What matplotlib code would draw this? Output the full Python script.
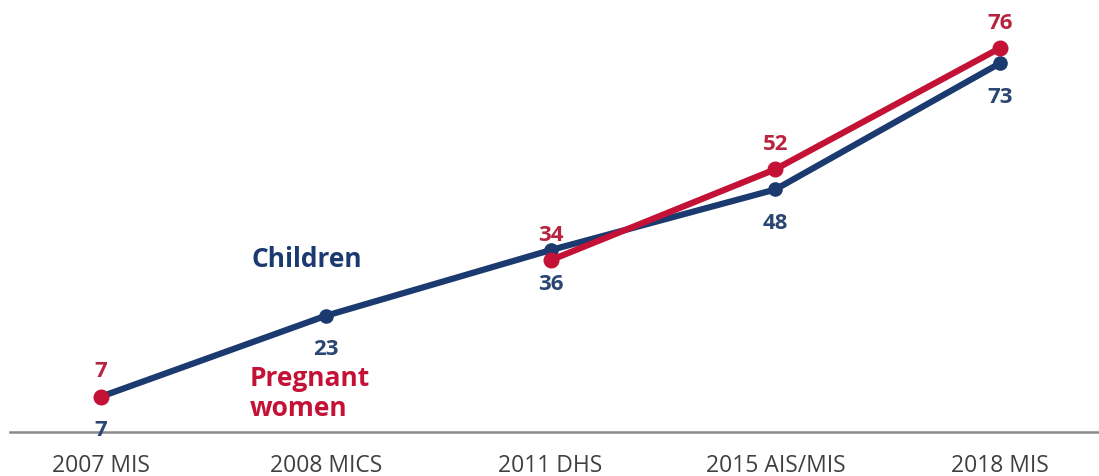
import numpy as np
import matplotlib
matplotlib.use("Agg")
import matplotlib.pyplot as plt

plt.rcParams['font.family'] = ['Open Sans', 'DejaVu Sans']

surveys = ["2007 MIS", "2008 MICS", "2011 DHS", "2015 AIS/MIS", "2018 MIS"]
children = [7, 23, 36, 48, 73]
pregnant_women = [7, np.nan, 34, 52, 76]

navy = "#1b3a6f"
crimson = "#c41237"
navy_lbl = "#2b4672"
crimson_lbl = "#b8243f"

fig = plt.figure(figsize=(10.99, 4.77), dpi=100)
ax = fig.add_axes([10 / 1099, 44 / 477, 1 - 10 / 1099, 1 - 44 / 477])

x = np.arange(len(surveys))
pw = np.array(pregnant_women, dtype=float)

ax.plot(x, children, color=navy, lw=4.5, marker="o", ms=9.5, zorder=2,
        solid_capstyle="round")
# Pregnant women: line only where consecutive surveys exist, markers at all
mask = ~np.isnan(pw)
ax.plot(x[2:], pw[2:], color=crimson, lw=4.5, zorder=3, solid_capstyle="round")
ax.plot(x[mask], pw[mask], color=crimson, lw=0, marker="o", ms=10.5, zorder=4)

for xi, v in zip(x, children):
    ax.annotate(f"{v}", (xi, v), xytext=(0, -33), textcoords="offset pixels",
                ha="center", va="center", fontsize=16, fontweight="bold",
                color=navy_lbl)
for xi, v in zip(x, pw):
    if not np.isnan(v):
        ax.annotate(f"{int(v)}", (xi, v), xytext=(0, 26), textcoords="offset pixels",
                    ha="center", va="center", fontsize=16, fontweight="bold",
                    color=crimson_lbl)

ax.text(0.915, 34.4, "Children", ha="center", va="center", fontsize=19,
        fontweight="bold", color=navy)
ax.text(0.66, 7.8, "Pregnant\nwomen", ha="left", va="center", fontsize=19,
        fontweight="bold", color=crimson, linespacing=1.15)

ax.set_xlim(-0.405, 4.44)
ax.set_ylim(0, 85.7)
ax.set_xticks(x)
ax.set_xticklabels(surveys, fontsize=16.5, color="#404040")
ax.tick_params(axis="x", length=0, pad=15)
ax.set_yticks([])
for s in ["top", "right", "left"]:
    ax.spines[s].set_visible(False)
ax.spines["bottom"].set_color("#8a8a8a")
ax.spines["bottom"].set_linewidth(1.8)

fig.savefig("out.png", dpi=100)
